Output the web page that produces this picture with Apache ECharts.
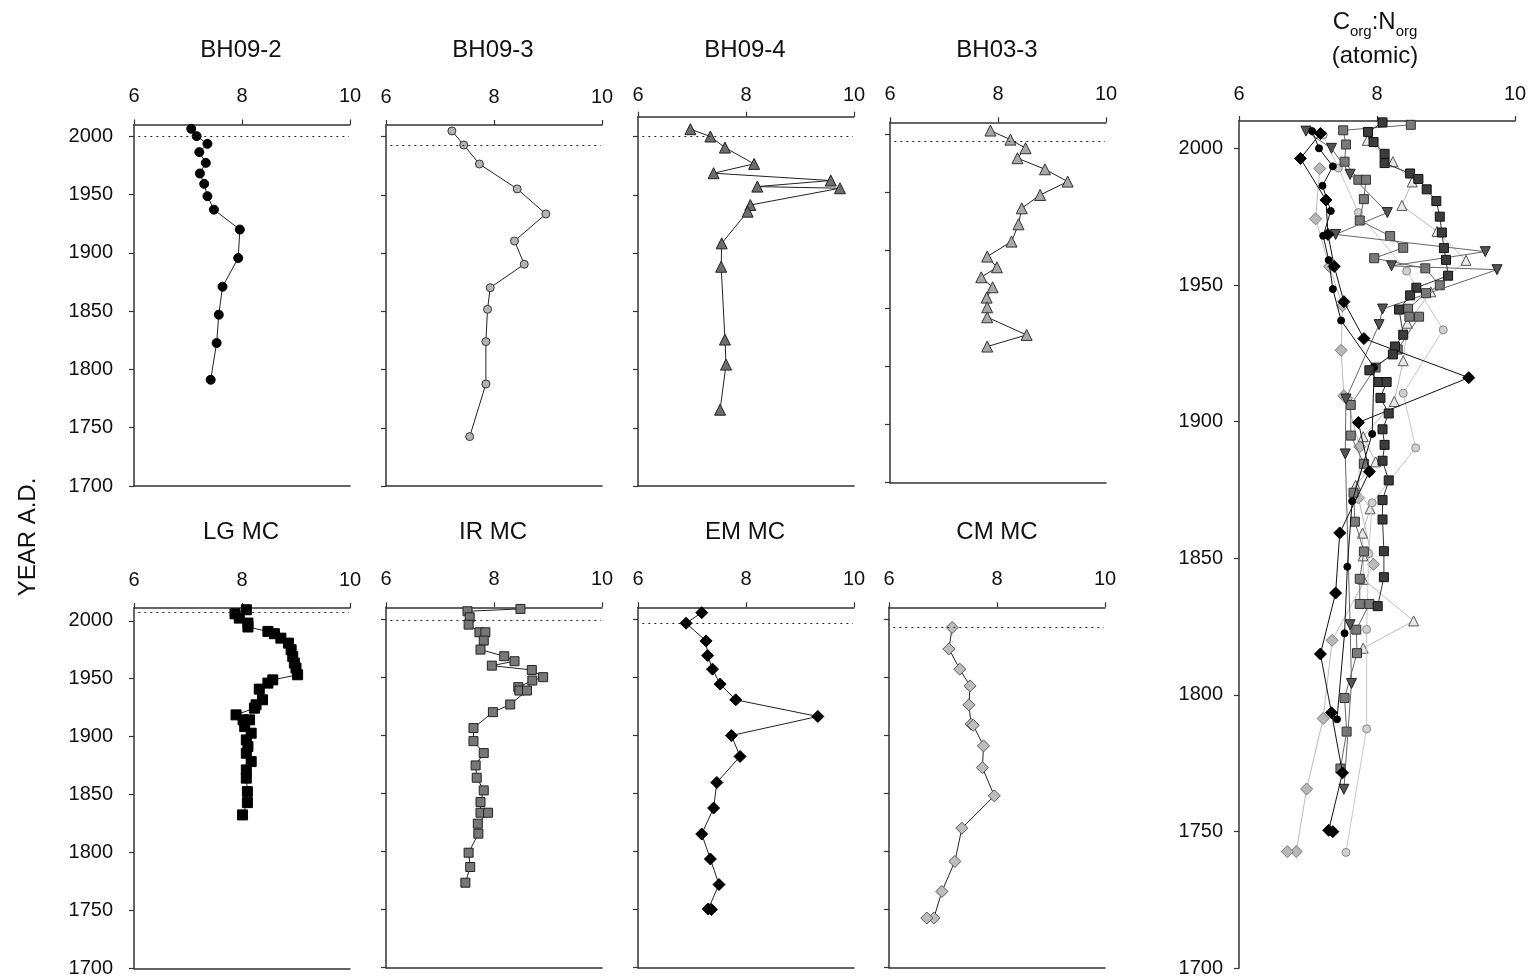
<!DOCTYPE html>
<html>
<head>
<meta charset="utf-8">
<script src="https://cdn.jsdelivr.net/npm/echarts@6/dist/echarts.min.js"></script>
<style>
  html, body { margin: 0; padding: 0; background: #ffffff; }
  #chart { width: 1530px; height: 980px; }
</style>
</head>
<body>
<div id="chart"></div>
<script>
const FONT = '"Liberation Sans", Arial, Helvetica, sans-serif';

// Axis ticks
const ratioTicks = [6, 8, 10];
const yearTicks = [1700, 1750, 1800, 1850, 1900, 1950, 2000];

// C:N (atomic) profiles, year A.D. vs ratio
const bh092Year  = [2006.3, 2000, 1993.4, 1986.3, 1977.1, 1968, 1959.1, 1948.5, 1937, 1919.9, 1895.5, 1870.9, 1846.9, 1822.6, 1791.1];
const bh092Ratio = [7.06, 7.16, 7.36, 7.21, 7.33, 7.22, 7.30, 7.36, 7.48, 7.96, 7.93, 7.64, 7.57, 7.53, 7.42];

const bh093Year  = [2004.9, 1992.8, 1976.5, 1955.1, 1933.6, 1910.4, 1890.4, 1870.3, 1851.7, 1824, 1787.6, 1742.4];
const bh093Ratio = [7.22, 7.44, 7.73, 8.43, 8.96, 8.38, 8.56, 7.93, 7.88, 7.85, 7.85, 7.55];

const bh094Year  = [2006.3, 2000, 1990.5, 1976.5, 1968.5, 1962.2, 1957, 1955.6, 1941.2, 1935.5, 1908.3, 1888.2, 1825.7, 1804.2, 1765.5];
const bh094Ratio = [6.97, 7.34, 7.61, 8.15, 7.40, 9.57, 8.21, 9.74, 8.08, 8.03, 7.55, 7.54, 7.61, 7.63, 7.52];

const bh033Year  = [2002.9, 1995.1, 1987.7, 1979.1, 1969.6, 1959, 1947.5, 1936, 1922.3, 1907.4, 1894.5, 1885.3, 1876.7, 1868.1, 1859.2, 1850.9, 1842.3, 1827.1, 1817.1];
const bh033Ratio = [7.86, 8.23, 8.51, 8.36, 8.87, 9.29, 8.78, 8.44, 8.38, 8.25, 7.80, 7.98, 7.69, 7.90, 7.79, 7.80, 7.80, 8.53, 7.80];

const lgYear  = [2009.5, 2006, 2002.3, 1998, 1994.6, 1990.8, 1988.8, 1985, 1980.7, 1975, 1969.2, 1963.5, 1959.2, 1953.4, 1949, 1946.2, 1941, 1931.8, 1927.5, 1924.6, 1918.8, 1914.5, 1914.5, 1908.7, 1903, 1897.2, 1891.5, 1885.7, 1878.5, 1871.3, 1864.2, 1852.6, 1843.1, 1832.5];
const lgRatio = [8.08, 7.87, 7.95, 8.11, 8.11, 8.48, 8.60, 8.72, 8.86, 8.91, 8.94, 8.97, 9.00, 9.03, 8.57, 8.48, 8.32, 8.38, 8.26, 8.23, 7.89, 8.02, 8.14, 8.05, 8.17, 8.08, 8.11, 8.08, 8.17, 8.08, 8.08, 8.10, 8.10, 8.01];

const irYear  = [2008.6, 2006.6, 2001.4, 1995.1, 1988.5, 1988.5, 1981.4, 1973.6, 1967.9, 1963.6, 1959.8, 1956.1, 1949.9, 1947, 1941.3, 1938.4, 1938.4, 1926.4, 1919.8, 1906.1, 1894.9, 1884.6, 1874, 1863.4, 1852.5, 1842.5, 1833.3, 1833.3, 1823.9, 1815.3, 1798.9, 1786.6, 1773.1];
const irRatio = [8.49, 7.51, 7.55, 7.53, 7.73, 7.84, 7.81, 7.75, 8.19, 8.38, 7.96, 8.70, 8.91, 8.71, 8.45, 8.47, 8.61, 8.30, 7.98, 7.62, 7.62, 7.81, 7.66, 7.68, 7.81, 7.75, 7.75, 7.89, 7.70, 7.71, 7.53, 7.56, 7.47];

const emYear  = [2005.4, 1996.3, 1981.1, 1968.5, 1956.8, 1943.9, 1930.4, 1916.1, 1899.7, 1881.7, 1859.3, 1837.3, 1815, 1793.5, 1771.5, 1750.5, 1750];
const emRatio = [7.18, 6.89, 7.26, 7.29, 7.38, 7.52, 7.81, 9.33, 7.73, 7.89, 7.46, 7.40, 7.18, 7.34, 7.50, 7.30, 7.36];

const cmYear  = [1992.6, 1974.2, 1956.8, 1942.4, 1926.1, 1909.5, 1908.5, 1890.8, 1872.1, 1847.8, 1820, 1791.4, 1765.6, 1742.7, 1742.7];
const cmRatio = [7.17, 7.11, 7.31, 7.50, 7.48, 7.52, 7.56, 7.75, 7.73, 7.95, 7.35, 7.22, 6.98, 6.83, 6.70];

// Core names and the dotted reference year drawn in each small panel
const coreNames = ['BH09-2', 'BH09-3', 'BH09-4', 'BH03-3', 'LG MC', 'IR MC', 'EM MC', 'CM MC'];
const refYears  = [2000, 1992.3, 2000, 1993.4, 2007, 1998.5, 1996.3, 1992.5];

const cores = [
  { name: coreNames[0], year: bh092Year, ratio: bh092Ratio,
    small: { symbol: 'circle', size: 9, fill: '#000', border: '#000' },
    big:   { symbol: 'circle', size: 7, fill: '#000', border: '#000', line: '#111' } },
  { name: coreNames[1], year: bh093Year, ratio: bh093Ratio,
    small: { symbol: 'circle', size: 8, fill: '#b4b4b4', border: '#333' },
    big:   { symbol: 'circle', size: 8, fill: '#d0d0d0', border: '#888', line: '#c8c8c8' } },
  { name: coreNames[2], year: bh094Year, ratio: bh094Ratio,
    small: { symbol: 'triangle', size: 11, fill: '#6e6e6e', border: '#222' },
    big:   { symbol: 'triangle', rotate: 180, size: 10, fill: '#555', border: '#222', line: '#666' } },
  { name: coreNames[3], year: bh033Year, ratio: bh033Ratio,
    small: { symbol: 'triangle', size: 11, fill: '#a8a8a8', border: '#333' },
    big:   { symbol: 'triangle', size: 10, fill: '#e8e8e8', border: '#555', line: '#bbbbbb' } },
  { name: coreNames[4], year: lgYear, ratio: lgRatio,
    small: { symbol: 'rect', size: 10, fill: '#000', border: '#000' },
    big:   { symbol: 'rect', size: 9, fill: '#3c3c3c', border: '#111', line: '#333' } },
  { name: coreNames[5], year: irYear, ratio: irRatio,
    small: { symbol: 'rect', size: 9, fill: '#777', border: '#222' },
    big:   { symbol: 'rect', size: 9, fill: '#7a7a7a', border: '#333', line: '#666' } },
  { name: coreNames[6], year: emYear, ratio: emRatio,
    small: { symbol: 'diamond', size: 12, fill: '#000', border: '#000' },
    big:   { symbol: 'diamond', size: 12, fill: '#000', border: '#000', line: '#111' } },
  { name: coreNames[7], year: cmYear, ratio: cmRatio,
    small: { symbol: 'diamond', size: 12, fill: '#bdbdbd', border: '#555' },
    big:   { symbol: 'diamond', size: 12, fill: '#b8b8b8', border: '#777', line: '#bbbbbb' } }
];

// Panel frames (pixels) and upper year bound of each panel
const panels = [
  { left: 134, top: 124.5, width: 216, height: 361.5, yMax: 2010, labelMargin: 18, yLabels: true },
  { left: 386, top: 125,   width: 216, height: 361,   yMax: 2010, labelMargin: 18, yLabels: false },
  { left: 638, top: 116.7, width: 216, height: 369.3, yMax: 2017, labelMargin: 11, yLabels: false },
  { left: 890, top: 122.3, width: 216, height: 360.4, yMax: 2010, labelMargin: 18, yLabels: false },
  { left: 134, top: 608,   width: 216, height: 360.5, yMax: 2011, labelMargin: 18, yLabels: true },
  { left: 386, top: 607.3, width: 216, height: 360.4, yMax: 2010, labelMargin: 18, yLabels: false },
  { left: 638, top: 607.3, width: 216, height: 360.4, yMax: 2010, labelMargin: 18, yLabels: false },
  { left: 889, top: 607.3, width: 216, height: 360.4, yMax: 2010, labelMargin: 18, yLabels: false }
];
const bigPanel = { left: 1239, top: 121, width: 276, height: 847.3, yMax: 2010, labelMargin: 17 };

const AXIS_COLOR = '#333';
const TEXT_COLOR = '#111';

const grid = [], xAxis = [], yAxis = [], series = [];
const plainNumber = v => String(v);

function addFrame(p, withBottom, yLabelMargin) {
  const gi = grid.length;
  grid.push({ left: p.left, top: p.top, width: p.width, height: p.height, containLabel: false });
  const xi = xAxis.length;
  xAxis.push({
    type: 'value', gridIndex: gi, position: 'top', min: 6, max: 10, interval: 2,
    axisLine: { show: true, onZero: false, lineStyle: { color: AXIS_COLOR, width: 1.5 } },
    axisTick: { show: true, inside: false, length: 5, lineStyle: { color: AXIS_COLOR, width: 1.2 } },
    axisLabel: { show: true, margin: p.labelMargin, fontSize: 20, fontFamily: FONT, color: TEXT_COLOR,
                 customValues: ratioTicks, formatter: plainNumber },
    splitLine: { show: false }
  });
  if (withBottom) {
    xAxis.push({
      type: 'value', gridIndex: gi, position: 'bottom', min: 6, max: 10, interval: 2,
      axisLine: { show: true, onZero: false, lineStyle: { color: AXIS_COLOR, width: 1.5 } },
      axisTick: { show: false }, axisLabel: { show: false }, splitLine: { show: false }
    });
  }
  const yi = yAxis.length;
  yAxis.push({
    type: 'value', gridIndex: gi, position: 'left', min: 1700, max: p.yMax, interval: 50,
    axisLine: { show: true, onZero: false, lineStyle: { color: AXIS_COLOR, width: 1.5 } },
    axisTick: { show: true, inside: false, length: 5, customValues: yearTicks,
                lineStyle: { color: AXIS_COLOR, width: 1.2 } },
    axisLabel: { show: p.yLabels !== false, margin: yLabelMargin, fontSize: 20, fontFamily: FONT,
                 color: TEXT_COLOR, customValues: yearTicks, formatter: plainNumber },
    splitLine: { show: false }
  });
  return { xi, yi };
}

function pairs(core) {
  return core.ratio.map((r, i) => [r, core.year[i]]);
}

// Eight single-core panels
cores.forEach((core, k) => {
  const p = panels[k];
  const ax = addFrame(p, true, 21);
  const s = core.small;
  series.push({
    type: 'line', name: core.name, xAxisIndex: ax.xi, yAxisIndex: ax.yi,
    data: pairs(core),
    symbol: s.symbol, symbolSize: s.size, showSymbol: true, showAllSymbol: true,
    itemStyle: { color: s.fill, borderColor: s.border, borderWidth: 1 },
    lineStyle: { color: '#222', width: 1 },
    emphasis: { disabled: true }, silent: true, animation: false, z: 3,
    markLine: {
      silent: true, symbol: 'none', animation: false,
      label: { show: false },
      lineStyle: { color: '#222', width: 1, type: [2, 4] },
      data: [[{ coord: [6.08, refYears[k]] }, { coord: [9.98, refYears[k]] }]]
    }
  });
});

// Combined panel with all cores overlaid
const bigAx = addFrame(Object.assign({ yLabels: true }, bigPanel), false, 16);
const drawOrder = [7, 3, 1, 5, 2, 0, 6, 4];
drawOrder.forEach((k, n) => {
  const core = cores[k];
  const b = core.big;
  series.push({
    type: 'line', name: core.name + ' (all)', xAxisIndex: bigAx.xi, yAxisIndex: bigAx.yi,
    data: pairs(core),
    symbol: b.symbol, symbolSize: b.size, symbolRotate: b.rotate || 0,
    showSymbol: true, showAllSymbol: true,
    itemStyle: { color: b.fill, borderColor: b.border, borderWidth: 1 },
    lineStyle: { color: b.line, width: 1 },
    emphasis: { disabled: true }, silent: true, animation: false, z: 3 + n * 0.01
  });
});

const graphic = [];
// Panel titles
const titleCenters = [241, 493, 745, 997];
coreNames.forEach((name, k) => {
  graphic.push({
    type: 'text', x: titleCenters[k % 4], y: k < 4 ? 50 : 532, silent: true,
    style: { text: name, fill: TEXT_COLOR, font: '24px ' + FONT, align: 'center', verticalAlign: 'middle' }
  });
});
// Combined panel title with subscripts
graphic.push({
  type: 'text', x: 1375, y: 22, silent: true,
  style: {
    text: '{m|C}{s|org}{m|:N}{s|org}', align: 'center', verticalAlign: 'middle', fill: TEXT_COLOR,
    rich: {
      m: { fontSize: 24, fontFamily: FONT, lineHeight: 34, verticalAlign: 'middle', fill: TEXT_COLOR },
      s: { fontSize: 15, fontFamily: FONT, lineHeight: 15, verticalAlign: 'bottom', fill: TEXT_COLOR }
    }
  }
});
graphic.push({
  type: 'text', x: 1375, y: 56, silent: true,
  style: { text: '(atomic)', fill: TEXT_COLOR, font: '24px ' + FONT, align: 'center', verticalAlign: 'middle' }
});
// Shared vertical axis title
graphic.push({
  type: 'text', x: 28, y: 537, rotation: Math.PI / 2, silent: true,
  style: { text: 'YEAR A.D.', fill: TEXT_COLOR, font: '24px ' + FONT, align: 'center', verticalAlign: 'middle' }
});

const chart = echarts.init(document.getElementById('chart'), null, { renderer: 'canvas' });
chart.setOption({
  backgroundColor: '#ffffff',
  animation: false,
  textStyle: { fontFamily: FONT },
  grid, xAxis, yAxis, series, graphic
});
</script>
</body>
</html>
